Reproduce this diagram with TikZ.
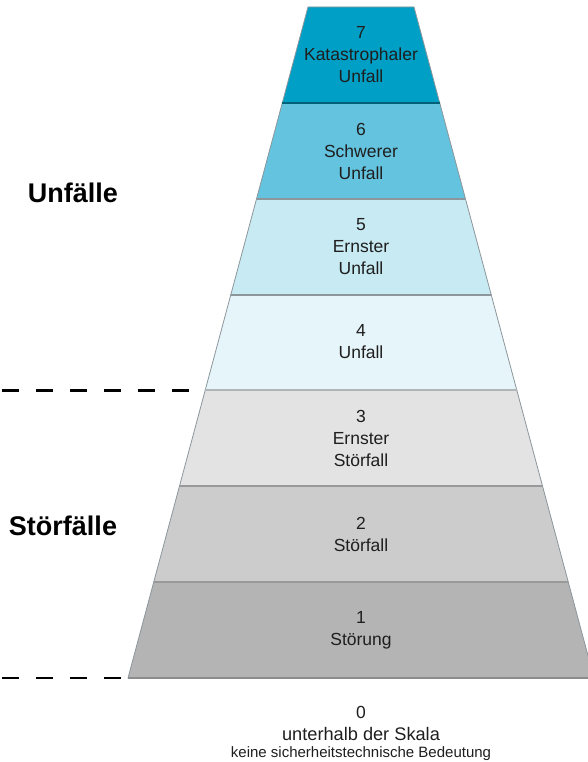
\documentclass[tikz,border=0pt]{standalone}
\usepackage{fontspec}
\setmainfont{Liberation Sans}
\definecolor{c7}{RGB}{0,160,198}
\definecolor{c6}{RGB}{100,195,222}
\definecolor{c5}{RGB}{200,234,243}
\definecolor{c4}{RGB}{230,245,250}
\definecolor{c3}{RGB}{227,227,227}
\definecolor{c2}{RGB}{204,204,204}
\definecolor{c1}{RGB}{180,180,180}
\definecolor{sep}{RGB}{140,150,155}
\definecolor{txt}{RGB}{30,30,30}
\tikzset{
  band/.style={draw=sep, line width=0.8pt},
  sepline/.style={draw=sep, line width=2pt},
  bandtext/.style={inner sep=0pt, align=center, text=txt, font=\fontsize{17.5}{22}\selectfont},
  grouplabel/.style={inner sep=0pt, font=\fontsize{27}{30}\selectfont\bfseries},
  divider/.style={line width=2.6pt, dash pattern=on 17pt off 17pt}
}
\begin{document}
\begin{tikzpicture}[x=1pt,y=-1pt]
\useasboundingbox (0,0) rectangle (587,762);
% bands
\path[band, fill=c7] (308,7) -- (414,7) -- (439.71,102.86) -- (282.29,102.86) -- cycle;
\path[band, fill=c6] (282.29,102.86) -- (439.71,102.86) -- (465.43,198.71) -- (256.57,198.71) -- cycle;
\path[band, fill=c5] (256.57,198.71) -- (465.43,198.71) -- (491.14,294.57) -- (230.86,294.57) -- cycle;
\path[band, fill=c4] (230.86,294.57) -- (491.14,294.57) -- (516.86,390.43) -- (205.14,390.43) -- cycle;
\path[band, fill=c3] (205.14,390.43) -- (516.86,390.43) -- (542.57,486.29) -- (179.43,486.29) -- cycle;
\path[band, fill=c2] (179.43,486.29) -- (542.57,486.29) -- (568.29,582.14) -- (153.71,582.14) -- cycle;
\path[band, fill=c1] (153.71,582.14) -- (568.29,582.14) -- (594,678) -- (128,678) -- cycle;
% separators
\draw[sepline, draw=c7!60!black] (282.29,102.86) -- (439.71,102.86);
\draw[sepline] (256.57,198.71) -- (465.43,198.71);
\draw[sepline] (230.86,294.57) -- (491.14,294.57);
\draw[sepline, draw=sep!70] (205.14,390.43) -- (516.86,390.43);
\draw[sepline, draw=gray!80] (179.43,486.29) -- (542.57,486.29);
\draw[sepline, draw=gray!80] (153.71,582.14) -- (568.29,582.14);
\draw[draw=gray!90, line width=1.2pt] (128,678) -- (594,678);
% texts
\node[bandtext] (t7) at (361,55) {7\\Katastrophaler\\Unfall};
\node[bandtext] (t6) at (361,151) {6\\Schwerer\\Unfall};
\node[bandtext] (t5) at (361,247) {5\\Ernster\\Unfall};
\node[bandtext] (t4) at (361,342) {4\\Unfall};
\node[bandtext] (t3) at (361,438) {3\\Ernster\\Störfall};
\node[bandtext] (t2) at (361,534) {2\\Störfall};
\node[bandtext] (t1) at (361,630) {1\\Störung};
\node[inner sep=0pt, text=txt, font=\fontsize{17.5}{21}\selectfont] (t0) at (361,712) {0};
\node[inner sep=0pt, text=txt, font=\fontsize{18.2}{21}\selectfont] (t0a) at (361,734) {unterhalb der Skala};
\node[inner sep=0pt, text=txt, font=\fontsize{15}{18}\selectfont] (t0b) at (361,754) {keine sicherheitstechnische Bedeutung};
% group labels
\node[grouplabel] (unf) at (73,193) {Unfälle};
\node[grouplabel] (stoer) at (63,526) {Störfälle};
% dashed dividers
\coordinate (d1a) at (2,390.5);
\coordinate (d1b) at (190,390.5);
\coordinate (d2a) at (2,678);
\coordinate (d2b) at (122,678);
\draw[divider] (d1a) -- (d1b);
\draw[divider] (d2a) -- (d2b);
\end{tikzpicture}
\end{document}
